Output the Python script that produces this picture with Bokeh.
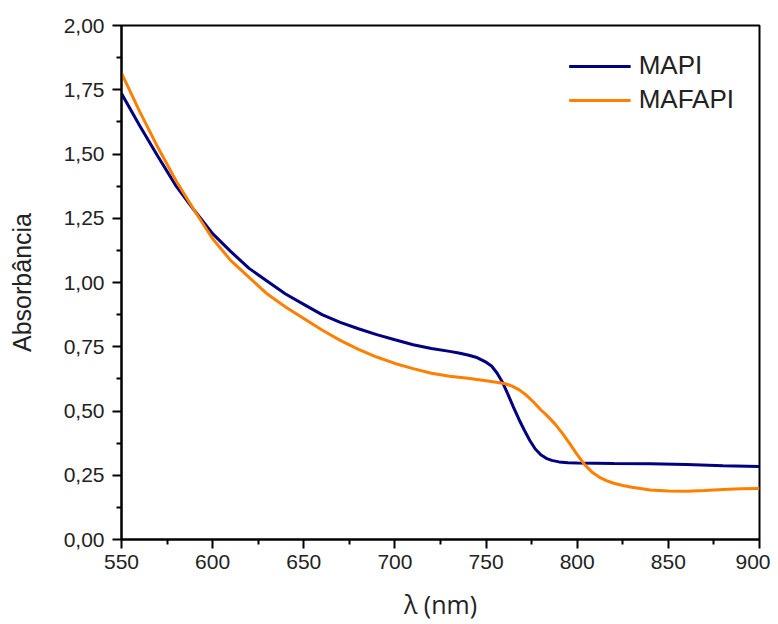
from bokeh.plotting import figure
from bokeh.models import Range1d, FixedTicker, Legend, LegendItem
from bokeh.embed import file_html
from bokeh.resources import INLINE

# Data
mapi_x = [550, 560, 570, 580, 590, 600, 610, 620, 630, 640, 650, 660, 670, 680, 690,
          700, 710, 720, 730, 735, 740, 745, 750, 753, 756, 759, 762, 765, 768, 771,
          774, 777, 780, 783, 786, 790, 795, 800, 820, 840, 860, 880, 900]
mapi_y = [1.735, 1.61, 1.49, 1.375, 1.28, 1.19, 1.12, 1.055, 1.005, 0.955, 0.915, 0.875,
          0.845, 0.82, 0.797, 0.777, 0.758, 0.743, 0.732, 0.726, 0.718, 0.708, 0.69,
          0.675, 0.648, 0.612, 0.565, 0.515, 0.468, 0.425, 0.385, 0.352, 0.33, 0.316,
          0.308, 0.302, 0.299, 0.298, 0.296, 0.295, 0.292, 0.287, 0.284]

mafapi_x = [550, 560, 570, 580, 590, 600, 610, 620, 630, 640, 650, 660, 670, 680, 690,
            700, 710, 720, 730, 740, 750, 760, 764, 768, 772, 776, 780, 784, 788, 792,
            796, 800, 804, 808, 812, 816, 820, 825, 830, 840, 850, 860, 870, 880, 890, 900]
mafapi_y = [1.815, 1.665, 1.525, 1.395, 1.28, 1.17, 1.085, 1.02, 0.955, 0.905, 0.86,
            0.815, 0.775, 0.74, 0.71, 0.685, 0.665, 0.647, 0.635, 0.627, 0.618, 0.607,
            0.598, 0.583, 0.562, 0.535, 0.505, 0.478, 0.448, 0.412, 0.372, 0.33, 0.292,
            0.263, 0.243, 0.229, 0.219, 0.21, 0.203, 0.193, 0.189, 0.188, 0.191, 0.195,
            0.197, 0.198]

x_ticks = [550, 600, 650, 700, 750, 800, 850, 900]
y_ticks = [0.0, 0.25, 0.5, 0.75, 1.0, 1.25, 1.5, 1.75, 2.0]
y_tick_labels = ["0,00", "0,25", "0,50", "0,75", "1,00", "1,25", "1,50", "1,75", "2,00"]

p = figure(width=770, height=624, output_backend="svg", toolbar_location=None,
           x_range=Range1d(550, 900), y_range=Range1d(0, 2.0),
           min_border_left=121, min_border_right=11, min_border_top=25,
           min_border_bottom=85)

p.xgrid.visible = False
p.ygrid.visible = False
p.outline_line_color = "black"
p.outline_line_width = 2
p.outline_line_alpha = 1.0

r1 = p.line(mapi_x, mapi_y, line_color="#000080", line_width=3)
r2 = p.line(mafapi_x, mafapi_y, line_color="#FF8000", line_width=3)

for ax in (p.xaxis[0], p.yaxis[0]):
    ax.axis_line_width = 2
    ax.major_tick_line_width = 2
    ax.minor_tick_line_width = 2
    ax.major_tick_out = 9
    ax.major_tick_in = 0
    ax.minor_tick_out = 5
    ax.minor_tick_in = 0
    ax.major_label_text_font = "Liberation Sans"
    ax.major_label_text_font_size = "21px"
    ax.major_label_text_color = "#222222"

p.xaxis[0].ticker = FixedTicker(ticks=x_ticks,
                                minor_ticks=[575, 625, 675, 725, 775, 825, 875])
p.yaxis[0].ticker = FixedTicker(ticks=y_ticks,
                                minor_ticks=[0.125, 0.375, 0.625, 0.875, 1.125, 1.375, 1.625, 1.875])
p.yaxis[0].major_label_overrides = {t: l for t, l in zip(y_ticks, y_tick_labels)}
p.xaxis[0].major_label_standoff = 6
p.yaxis[0].major_label_standoff = 8

p.xaxis[0].axis_label = "λ (nm)"
p.xaxis[0].axis_label_text_font = "Open Sans"
p.xaxis[0].axis_label_text_font_size = "25px"
p.xaxis[0].axis_label_text_font_style = "normal"
p.xaxis[0].axis_label_text_color = "#222222"
p.xaxis[0].axis_label_standoff = 15

p.yaxis[0].axis_label = "Absorbância"
p.yaxis[0].axis_label_text_font = "Liberation Sans"
p.yaxis[0].axis_label_text_font_size = "25px"
p.yaxis[0].axis_label_text_font_style = "normal"
p.yaxis[0].axis_label_text_color = "#222222"
p.yaxis[0].axis_label_standoff = 25

legend = Legend(items=[LegendItem(label="MAPI", renderers=[r1]),
                       LegendItem(label="MAFAPI", renderers=[r2])],
                location="top_right")
legend.border_line_color = None
legend.background_fill_alpha = 0
legend.label_text_font = "Liberation Sans"
legend.label_text_font_size = "26px"
legend.label_text_color = "#222222"
legend.glyph_width = 62
legend.glyph_height = 30
legend.label_height = 30
legend.spacing = 3
legend.label_standoff = 8
legend.margin = 25
legend.padding = 8
p.add_layout(legend)

open("out.html", "w").write(file_html(p, INLINE))
